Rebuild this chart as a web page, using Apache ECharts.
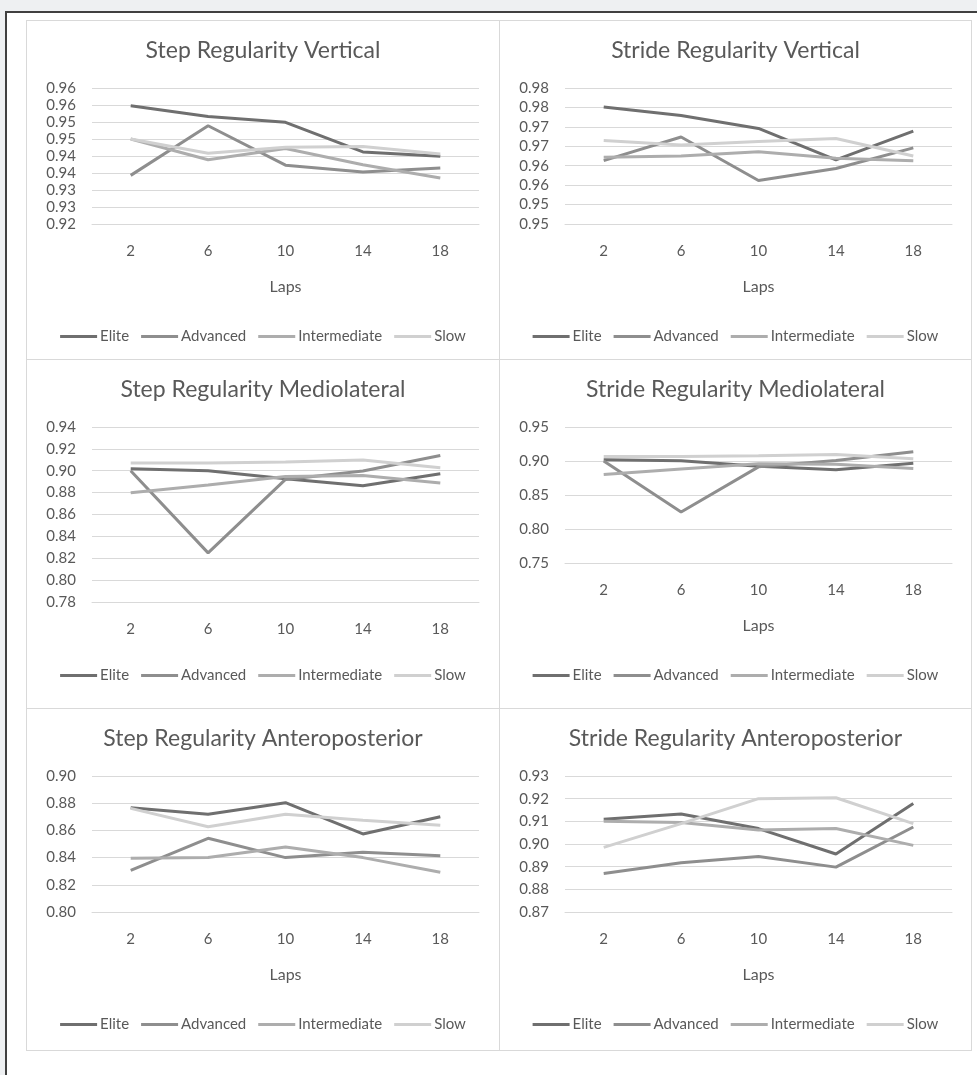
<!DOCTYPE html>
<html>
<head>
<meta charset="utf-8">
<script src="https://cdn.jsdelivr.net/npm/echarts@6/dist/echarts.min.js"></script>
<style>
  html, body { margin: 0; padding: 0; }
  body { width: 977px; height: 1075px; background: #eef0f2; position: relative; overflow: hidden; }
  .frame { position: absolute; left: 5px; top: 11px; width: 980px; height: 1080px; background: #fff;
           border-left: 2px solid #404040; border-top: 2px solid #404040; }
  .panel { position: absolute; box-sizing: border-box; border: 1px solid #d9d9d9; background: #fff; }
</style>
</head>
<body>
<div class="frame"></div>
<div class="panel" id="p1" style="left:26px;top:20px;width:474px;height:340px"></div>
<div class="panel" id="p2" style="left:499px;top:20px;width:473px;height:340px"></div>
<div class="panel" id="p3" style="left:26px;top:359px;width:474px;height:350px"></div>
<div class="panel" id="p4" style="left:499px;top:359px;width:473px;height:350px"></div>
<div class="panel" id="p5" style="left:26px;top:708px;width:474px;height:343px"></div>
<div class="panel" id="p6" style="left:499px;top:708px;width:473px;height:343px"></div>
<script>
// data
const laps = ['2', '6', '10', '14', '18']
const groups = ['Elite', 'Advanced', 'Intermediate', 'Slow']

const stepVertElite = [0.9548, 0.9516, 0.9499, 0.9412, 0.9399]
const stepVertAdvanced = [0.9343, 0.9489, 0.9373, 0.9353, 0.9365]
const stepVertIntermediate = [0.9450, 0.9389, 0.9422, 0.9374, 0.9335]
const stepVertSlow = [0.9450, 0.9408, 0.9426, 0.9428, 0.9406]

const strideVertElite = [0.9751, 0.9729, 0.9696, 0.9615, 0.9689]
const strideVertAdvanced = [0.9613, 0.9674, 0.9562, 0.9593, 0.9646]
const strideVertIntermediate = [0.9622, 0.9625, 0.9636, 0.9619, 0.9613]
const strideVertSlow = [0.9665, 0.9653, 0.9662, 0.9670, 0.9625]

const stepMLElite = [0.9018, 0.9000, 0.8927, 0.8863, 0.8973]
const stepMLAdvanced = [0.9000, 0.8249, 0.8921, 0.8997, 0.9140]
const stepMLIntermediate = [0.8799, 0.8869, 0.8948, 0.8957, 0.8887]
const stepMLSlow = [0.9070, 0.9070, 0.9079, 0.9098, 0.9027]

const strideMLElite = [0.9017, 0.9003, 0.8924, 0.8870, 0.8968]
const strideMLAdvanced = [0.9000, 0.8249, 0.8914, 0.9007, 0.9135]
const strideMLIntermediate = [0.8800, 0.8884, 0.8958, 0.8953, 0.8889]
const strideMLSlow = [0.9067, 0.9067, 0.9076, 0.9096, 0.9032]

const stepAPElite = [0.8767, 0.8718, 0.8804, 0.8574, 0.8701]
const stepAPAdvanced = [0.8306, 0.8542, 0.8400, 0.8439, 0.8414]
const stepAPIntermediate = [0.8395, 0.8400, 0.8478, 0.8400, 0.8292]
const stepAPSlow = [0.8762, 0.8627, 0.8718, 0.8674, 0.8637]

const strideAPElite = [0.9109, 0.9132, 0.9068, 0.8956, 0.9179]
const strideAPAdvanced = [0.8870, 0.8917, 0.8945, 0.8898, 0.9075]
const strideAPIntermediate = [0.9100, 0.9095, 0.9062, 0.9068, 0.8994]
const strideAPSlow = [0.8985, 0.9090, 0.9200, 0.9204, 0.9090]

const lineColors = ['#6f6f6f', '#8e8e8e', '#adadad', '#d0d0d0']
const textColor = '#595959'
const font = 'Lato, "Open Sans", sans-serif'

// round half up to 2 decimals, like the spreadsheet labels
function fmt(v) {
  return (Math.round(Math.round(v * 1000) / 10) / 100).toFixed(2)
}

function makeChart(id, opts) {
  const chart = echarts.init(document.getElementById(id), null, { renderer: 'canvas' })
  chart.setOption({
    animation: false,
    textStyle: { fontFamily: font },
    title: {
      text: opts.title,
      left: 'center',
      top: 18,
      padding: 0,
      textStyle: { fontFamily: font, fontSize: 23, fontWeight: 'normal', color: textColor }
    },
    legend: {
      data: groups,
      top: 308,
      left: 'center',
      padding: 0,
      icon: 'rect',
      itemWidth: 37,
      itemHeight: 3,
      itemGap: 12,
      textStyle: { fontFamily: font, fontSize: 15, color: textColor, padding: [0, 0, 0, -2] }
    },
    grid: {
      left: 65,
      right: opts.right,
      top: opts.top,
      height: opts.height,
      containLabel: false,
      outerBoundsMode: 'none'
    },
    xAxis: {
      type: 'category',
      data: laps,
      boundaryGap: true,
      name: opts.laps ? 'Laps' : '',
      nameLocation: 'middle',
      nameGap: 55,
      nameTextStyle: { fontFamily: font, fontSize: 16, color: textColor },
      axisLine: { show: true, lineStyle: { color: '#d9d9d9', width: 1 } },
      axisTick: { show: false },
      axisLabel: { margin: 20, fontSize: 15, color: textColor, fontFamily: font }
    },
    yAxis: {
      type: 'value',
      min: opts.min,
      max: opts.max,
      interval: opts.interval,
      axisLine: { show: false },
      axisTick: { show: false },
      splitLine: { lineStyle: { color: '#d9d9d9', width: 1 } },
      axisLabel: { margin: 16, fontSize: 15, color: textColor, fontFamily: font, formatter: fmt }
    },
    series: opts.data.map((d, i) => ({
      name: groups[i],
      type: 'line',
      data: d,
      symbol: 'none',
      color: lineColors[i],
      lineStyle: { color: lineColors[i], width: 3 }
    }))
  })
  return chart
}

makeChart('p1', {
  title: 'Step Regularity Vertical', min: 0.92, max: 0.96, interval: 0.005,
  top: 67, height: 136, right: 20, laps: true,
  data: [stepVertElite, stepVertAdvanced, stepVertIntermediate, stepVertSlow]
})
makeChart('p2', {
  title: 'Stride Regularity Vertical', min: 0.945, max: 0.98, interval: 0.005,
  top: 67, height: 136, right: 19, laps: true,
  data: [strideVertElite, strideVertAdvanced, strideVertIntermediate, strideVertSlow]
})
makeChart('p3', {
  title: 'Step Regularity Mediolateral', min: 0.78, max: 0.94, interval: 0.02,
  top: 67, height: 175, right: 20, laps: false,
  data: [stepMLElite, stepMLAdvanced, stepMLIntermediate, stepMLSlow]
})
makeChart('p4', {
  title: 'Stride Regularity Mediolateral', min: 0.75, max: 0.95, interval: 0.05,
  top: 67, height: 136, right: 19, laps: true,
  data: [strideMLElite, strideMLAdvanced, strideMLIntermediate, strideMLSlow]
})
makeChart('p5', {
  title: 'Step Regularity Anteroposterior', min: 0.8, max: 0.9, interval: 0.02,
  top: 67, height: 136, right: 20, laps: true,
  data: [stepAPElite, stepAPAdvanced, stepAPIntermediate, stepAPSlow]
})
makeChart('p6', {
  title: 'Stride Regularity Anteroposterior', min: 0.87, max: 0.93, interval: 0.01,
  top: 67, height: 136, right: 19, laps: true,
  data: [strideAPElite, strideAPAdvanced, strideAPIntermediate, strideAPSlow]
})
</script>
</body>
</html>
